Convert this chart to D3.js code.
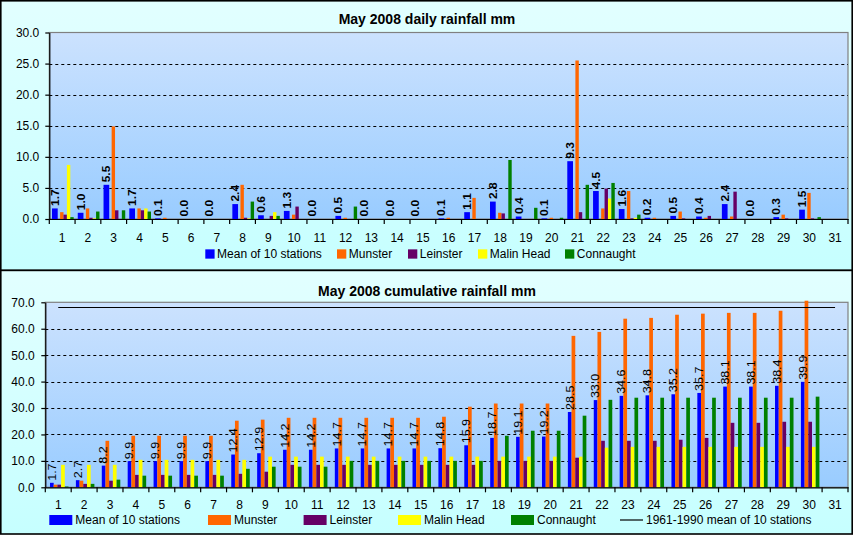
<!DOCTYPE html>
<html>
<head>
<meta charset="utf-8">
<script src="https://cdn.jsdelivr.net/npm/d3@7"></script>
<style>
  html, body { margin: 0; padding: 0; background: #fff; }
  svg { display: block; font-family: "Liberation Sans", Arial, sans-serif; }
</style>
</head>
<body>
<script>
// ---------------- DATA ----------------
const days = ["1","2","3","4","5","6","7","8","9","10","11","12","13","14","15","16","17","18","19","20","21","22","23","24","25","26","27","28","29","30","31"];
const seriesNames = ["Mean of 10 stations", "Munster", "Leinster", "Malin Head", "Connaught"];
const lineName = "1961-1990 mean of 10 stations";

// daily rainfall (mm)
const meanDaily      = [1.7,1.0,5.5,1.7,0.1,0.0,0.0,2.4,0.6,1.3,0.0,0.5,0.0,0.0,0.0,0.1,1.1,2.8,0.4,0.1,9.3,4.5,1.6,0.2,0.5,0.4,2.4,0.0,0.3,1.5,null];
const munsterDaily   = [1.1,1.7,14.9,1.7,0.2,0,0,5.5,0,0.7,0,0.2,0,0,0,0.2,3.4,1.0,0,0.2,25.5,1.7,4.5,0.2,1.2,0.2,0.4,0,0.7,4.2,0];
const leinsterDaily  = [0.7,0.2,1.4,1.4,0,0,0,0.2,0.5,2.0,0,0,0,0,0,0,0,0.9,0,0,1.1,4.9,0.1,0,0.1,0.5,4.4,0,0.1,0.1,0];
const malinDaily     = [8.7,0.1,0,1.7,0,0,0,0.1,1.1,0,0,0,0,0,0,0,0,0,0,0,0,3.3,0.2,0,0,0,0,0,0,0,0];
const connaughtDaily = [0.3,1.2,1.4,1.2,0,0,0,2.8,0.5,0,0,2.0,0,0,0,0,0,9.5,1.8,0.2,5.5,5.8,0.7,0,0,0,0,0,0,0.3,0];

// cumulative rainfall (mm)
const meanCum      = [1.7,2.7,8.2,9.9,9.9,9.9,9.9,12.4,12.9,14.2,14.2,14.7,14.7,14.7,14.7,14.8,15.9,18.7,19.1,19.2,28.5,33.0,34.6,34.8,35.2,35.7,38.1,38.1,38.4,39.9,null];
const munsterCum   = [1.0,2.5,17.6,19.5,19.5,19.5,19.5,25.2,25.6,26.3,26.3,26.3,26.3,26.3,26.3,26.7,30.5,31.7,31.7,31.7,57.3,58.8,63.8,64.1,65.3,65.7,66.0,66.0,66.8,70.6,null];
const leinsterCum  = [1.0,1.3,2.5,4.7,4.7,4.7,4.7,5.1,5.9,8.5,8.5,8.5,8.5,8.5,8.5,8.5,8.5,10.0,10.0,10.0,11.2,17.6,17.6,17.6,18.0,18.7,24.4,24.4,24.8,24.8,null];
const malinCum     = [8.5,8.5,8.5,10.4,10.4,10.4,10.4,10.4,11.6,11.6,11.6,11.6,11.6,11.6,11.6,11.6,11.6,11.6,11.6,11.6,11.6,15.0,15.3,15.3,15.3,15.3,15.3,15.3,15.3,15.3,null];
const connaughtCum = [0.3,1.3,2.9,4.4,4.4,4.4,4.4,7.0,7.8,7.8,7.8,10.0,10.0,10.0,10.0,10.0,10.0,19.5,21.4,21.4,27.1,33.1,33.9,33.9,33.9,33.9,33.9,33.9,33.9,34.3,null];
const longTermMean = [68.1,68.1,68.1,68.1,68.1,68.1,68.1,68.1,68.1,68.1,68.1,68.1,68.1,68.1,68.1,68.1,68.1,68.1,68.1,68.1,68.1,68.1,68.1,68.1,68.1,68.1,68.1,68.1,68.1,68.1,68.1];

const dailyTicks = [0,5,10,15,20,25,30];
const cumTicks   = [0,10,20,30,40,50,60,70];

// ---------------- STYLE ----------------
const colors = ["#0000FF", "#FF6600", "#660066", "#FFFF00", "#008000"];

const W = 853, H = 535;
const svg = d3.select("body").append("svg").attr("width", W).attr("height", H);
const defs = svg.append("defs");

const og = defs.append("linearGradient").attr("id","outerGrad").attr("x1",0).attr("y1",0).attr("x2",0).attr("y2",1);
og.append("stop").attr("offset","0%").attr("stop-color","#E2FFFF");
og.append("stop").attr("offset","100%").attr("stop-color","#C6FFFF");
const pg = defs.append("linearGradient").attr("id","plotGrad").attr("x1",0).attr("y1",0).attr("x2",0).attr("y2",1);
pg.append("stop").attr("offset","0%").attr("stop-color","#CCE2FE");
pg.append("stop").attr("offset","100%").attr("stop-color","#99CCFF");

function panel(cfg) {
  const g = svg.append("g");
  g.append("rect").attr("x", cfg.px).attr("y", cfg.py).attr("width", cfg.pw).attr("height", cfg.ph)
    .attr("fill","url(#outerGrad)").attr("stroke","#000").attr("stroke-width",1.6);

  g.append("text").attr("x", 427).attr("y", cfg.titleY).attr("text-anchor","middle")
    .attr("font-size", 14).attr("font-weight","bold").attr("fill","#000").text(cfg.title);

  const x = d3.scaleBand().domain(days).range([cfg.x0, cfg.x1]).paddingInner(0).paddingOuter(0);
  const y = d3.scaleLinear().domain([0, cfg.ymax]).range([cfg.yb, cfg.yt]);
  const bw = x.bandwidth();

  g.append("rect").attr("x", cfg.x0).attr("y", cfg.yt).attr("width", cfg.x1 - cfg.x0).attr("height", cfg.yb - cfg.yt)
    .attr("fill","url(#plotGrad)").attr("stroke","#808080").attr("stroke-width",1.2);

  g.append("g").selectAll("line").data(cfg.ticks.filter(t => t > 0 && t < cfg.ymax)).join("line")
    .attr("x1", cfg.x0).attr("x2", cfg.x1).attr("y1", d => Math.round(y(d)) + 0.5).attr("y2", d => Math.round(y(d)) + 0.5)
    .attr("stroke","#000").attr("stroke-width",1).attr("stroke-dasharray","3,3");

  const barG = g.append("g");
  cfg.series.forEach((vals, i) => {
    barG.append("g").selectAll("rect").data(vals.map((v, j) => ({v, d: days[j]})).filter(o => o.v != null && o.v > 0)).join("rect")
      .attr("x", o => x(o.d) + cfg.off(i, bw))
      .attr("width", cfg.wid(i, bw))
      .attr("y", o => y(o.v))
      .attr("height", o => y(0) - y(o.v))
      .attr("fill", colors[i]);
  });

  if (cfg.line) {
    const line = d3.line().x((v, j) => x(days[j]) + bw / 2).y(v => Math.round(y(v)) + 0.5);
    g.append("path").attr("d", line(cfg.line)).attr("fill","none").attr("stroke","#000").attr("stroke-width",1.2);
  }

  const meanVals = cfg.series[0];
  g.append("g").selectAll("text").data(meanVals.map((v, j) => ({v, d: days[j]})).filter(o => o.v != null)).join("text")
    .attr("transform", o => `translate(${x(o.d) + cfg.off(0, bw) + cfg.wid(0, bw) / 2},${y(o.v) - cfg.labelGap}) rotate(-90) scale(1,${cfg.labelSquash})`)
    .attr("dy", "0.36em")
    .attr("font-size", cfg.labelSize).attr("font-weight", cfg.labelWeight).attr("fill","#000")
    .text(o => d3.format(".1f")(o.v));

  const ya = g.append("g").attr("transform", `translate(${cfg.x0},0)`)
    .call(d3.axisLeft(y).tickValues(cfg.ticks).tickFormat(d3.format(".1f")).tickSize(4).tickSizeOuter(0).tickPadding(cfg.yPad));
  ya.selectAll("text").attr("font-size", 12).attr("fill","#000").attr("font-family","Liberation Sans, Arial, sans-serif");
  ya.selectAll("line, path").attr("stroke","#000").attr("stroke-width",1.2);

  const xa = g.append("g").attr("transform", `translate(0,${cfg.yb})`)
    .call(d3.axisBottom(x).tickSize(0).tickSizeOuter(0).tickPadding(cfg.xPad));
  xa.selectAll("text").attr("font-size", 12).attr("fill","#000").attr("font-family","Liberation Sans, Arial, sans-serif");
  xa.select("path").attr("stroke","#000").attr("stroke-width",1.2);
  g.append("g").selectAll("line").data(days.map(d => x(d)).concat([cfg.x1])).join("line")
    .attr("x1", d => d).attr("x2", d => d).attr("y1", cfg.yb).attr("y2", cfg.yb + 5)
    .attr("stroke","#000").attr("stroke-width",1.2);

  const lg = g.append("g");
  cfg.legend.forEach((it, i) => {
    if (it.type === "line") {
      lg.append("line").attr("x1", it.x).attr("x2", it.x + cfg.legW).attr("y1", cfg.legY).attr("y2", cfg.legY)
        .attr("stroke","#000").attr("stroke-width",1.2);
    } else {
      lg.append("rect").attr("x", it.x).attr("y", cfg.legY - cfg.legH / 2).attr("width", cfg.legW).attr("height", cfg.legH)
        .attr("fill", colors[i]);
    }
    lg.append("text").attr("x", it.x + cfg.legW + cfg.legGap).attr("y", cfg.legY).attr("dy","0.35em")
      .attr("font-size", 12).attr("fill","#000").text(it.name);
  });
}

panel({
  px: 0.8, py: 0.8, pw: 851.4, ph: 269.6,
  title: "May 2008 daily rainfall mm", titleY: 24,
  x0: 49.3, x1: 848, yt: 32.5, yb: 219, ymax: 30, ticks: dailyTicks,
  series: [meanDaily, munsterDaily, leinsterDaily, malinDaily, connaughtDaily],
  off: (i, bw) => i === 0 ? bw * 2.7 / 25.76 : bw * (10.8 + (i - 1) * 3.4) / 25.76,
  wid: (i, bw) => i === 0 ? bw * 5.7 / 25.76 : bw * 3.4 / 25.76,
  labelGap: 2.5, labelSize: 12, labelWeight: "bold", labelSquash: 0.9,
  yPad: 6, xPad: 14.8,
  legY: 254, legW: 9.3, legH: 9.3, legGap: 2.5,
  legend: [
    {name: seriesNames[0], x: 205.3},
    {name: seriesNames[1], x: 337},
    {name: seriesNames[2], x: 408},
    {name: seriesNames[3], x: 478},
    {name: seriesNames[4], x: 565}
  ]
});

panel({
  px: 0.8, py: 270.4, pw: 851.4, ph: 263.6,
  title: "May 2008 cumulative rainfall mm", titleY: 296,
  x0: 45.3, x1: 848, yt: 302.3, yb: 487.3, ymax: 70, ticks: cumTicks,
  series: [meanCum, munsterCum, leinsterCum, malinCum, connaughtCum],
  line: longTermMean,
  off: (i, bw) => bw * (4.7 + i * 3.7) / 25.9,
  wid: (i, bw) => bw * 3.7 / 25.9,
  labelGap: 2, labelSize: 12.5, labelWeight: "normal", labelSquash: 0.85,
  yPad: 6.6, xPad: 13.5,
  legY: 520, legW: 23, legH: 10, legGap: 3,
  legend: [
    {name: seriesNames[0], x: 49.3},
    {name: seriesNames[1], x: 208},
    {name: seriesNames[2], x: 303.6},
    {name: seriesNames[3], x: 398},
    {name: seriesNames[4], x: 511},
    {name: lineName, x: 620, type: "line"}
  ]
});
</script>
</body>
</html>
